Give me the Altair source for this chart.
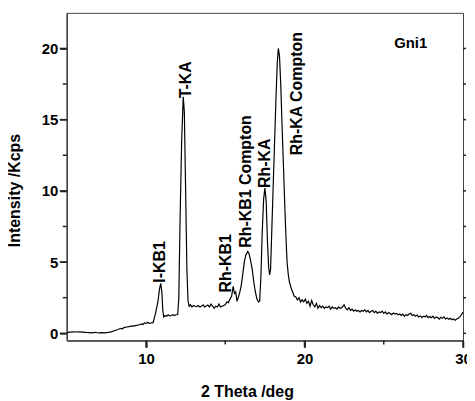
import altair as alt
import pandas as pd

# spectrum (2 theta in deg, intensity in Kcps)
theta = [5.0, 5.2, 5.4, 5.6, 5.8, 6.0, 6.2, 6.4, 6.6, 6.8, 7.0, 7.2, 7.4, 7.6, 7.8, 8.0,
         8.2, 8.4, 8.5, 8.6, 8.8, 9.0, 9.1, 9.2, 9.4, 9.6, 9.7, 9.8, 9.9, 10.0, 10.1, 10.2, 10.3, 10.45,
         10.6, 10.75, 10.85, 10.93, 11.0, 11.06, 11.12, 11.2, 11.3, 11.4, 11.5, 11.6, 11.7, 11.8, 11.9, 12.0,
         12.07, 12.15, 12.25, 12.35, 12.42, 12.5, 12.58, 12.65, 12.72, 12.8, 12.9, 13.0, 13.1, 13.2, 13.3,
         13.4, 13.5, 13.6, 13.7, 13.8, 13.9, 14.0, 14.1, 14.2, 14.3, 14.4, 14.5, 14.6, 14.7, 14.8, 14.9,
         15.0, 15.1, 15.2, 15.3,
         15.4, 15.5, 15.58, 15.66, 15.74, 15.82, 15.9, 16.0, 16.1, 16.2, 16.3, 16.42, 16.5, 16.6, 16.7,
         16.8, 16.9, 17.0, 17.1, 17.17, 17.25, 17.33, 17.42, 17.5, 17.58, 17.66, 17.74, 17.8, 17.86, 17.93,
         18.0, 18.1, 18.2, 18.28, 18.35, 18.42, 18.5, 18.6, 18.68, 18.76, 18.84, 18.9, 18.98, 19.05, 19.15,
         19.25, 19.35, 19.45, 19.55, 19.65, 19.75, 19.85, 19.95, 20.05, 20.15, 20.25, 20.35, 20.45, 20.55,
         20.65, 20.75, 20.85, 20.95, 21.05, 21.15, 21.25, 21.35, 21.45, 21.55, 21.65, 21.75, 21.85, 21.95,
         22.05, 22.15, 22.25, 22.35, 22.5, 22.6, 22.7, 22.8, 22.9, 23.0, 23.1, 23.2, 23.3, 23.4, 23.5,
         23.6, 23.7, 23.8, 23.9, 24.0, 24.1, 24.2, 24.3, 24.4, 24.5, 24.6, 24.7, 24.8, 24.9, 25.0, 25.1,
         25.2, 25.3, 25.4, 25.5, 25.6, 25.7, 25.8, 25.9, 26.0, 26.1, 26.2, 26.3, 26.4, 26.5, 26.6, 26.7,
         26.8, 26.9, 27.0, 27.1, 27.2, 27.3, 27.4, 27.5, 27.6, 27.7, 27.8, 27.9, 28.0, 28.1, 28.2, 28.3,
         28.4, 28.5, 28.6, 28.7, 28.8, 28.9, 29.0, 29.1, 29.2, 29.3, 29.4, 29.5, 29.6, 29.7, 29.8, 29.9, 30.0]
intensity = [0.05, 0.08, 0.10, 0.09, 0.10, 0.08, 0.06, 0.05, 0.03, 0.07, 0.02, 0.04, 0.03, 0.06, 0.10, 0.18,
             0.25, 0.35, 0.30, 0.40, 0.44, 0.48, 0.52, 0.50, 0.56, 0.60, 0.66, 0.62, 0.72, 0.68, 0.78, 0.70, 0.72, 0.75,
             1.4, 2.2, 3.1, 3.5, 2.9, 1.6, 1.15, 1.25, 1.2, 1.3, 1.22, 1.25, 1.3, 1.25, 1.3, 1.32,
             2.5, 8.0, 13.5, 16.6, 15.5, 10.0, 4.5, 2.3, 1.9, 2.0, 1.85, 1.95, 1.9, 1.88, 1.95,
             1.85, 1.9, 2.0, 1.85, 1.92, 1.98, 1.85, 2.05, 1.9, 1.75, 1.9, 1.85, 2.05, 1.85, 1.9, 1.95,
             2.0, 2.2, 2.15, 2.4,
             2.6, 3.3, 2.8, 2.9, 2.25, 2.5, 2.8, 3.3, 4.1, 5.0, 5.5, 5.75, 5.6, 5.1, 4.5,
             3.6, 2.9, 2.4, 2.2, 2.25, 4.0, 7.0, 9.4, 10.2, 9.3, 6.5, 4.6, 4.1, 4.5, 7.0,
             9.5, 13.0, 16.5, 19.0, 20.0, 19.5, 17.5, 14.0, 11.5, 8.8, 6.5, 5.0, 4.1, 3.6, 3.2,
             2.9, 2.6, 2.55, 2.35, 2.5, 2.2, 2.35, 2.2, 2.4, 2.1, 2.25, 1.9, 2.3, 2.0,
             1.85, 2.1, 1.75, 1.95, 1.8, 1.9, 1.75, 1.85, 1.8, 1.9, 1.7, 1.85, 1.75, 1.8,
             1.7, 1.85, 1.75, 1.8, 2.0, 1.75, 1.65, 1.8, 1.6, 1.7, 1.55, 1.65, 1.55, 1.6, 1.5,
             1.6, 1.55, 1.65, 1.5, 1.6, 1.45, 1.55, 1.6, 1.45, 1.55, 1.4, 1.5, 1.45, 1.55, 1.4, 1.5,
             1.35, 1.45, 1.4, 1.3, 1.42, 1.35, 1.4, 1.3, 1.35, 1.25, 1.35, 1.2, 1.3, 1.25, 1.35, 1.4,
             1.25, 1.3, 1.2, 1.28, 1.15, 1.22, 1.1, 1.2, 1.15, 1.25, 1.1, 1.18, 1.1, 1.2, 1.05, 1.15,
             1.1, 1.0, 1.12, 1.05, 1.15, 1.0, 1.08, 0.98, 1.05, 0.95, 1.0, 0.92, 1.0, 1.05, 1.15, 1.3, 1.5]

# peak annotations
peak_labels = ["I-KB1", "T-KA", "Rh-KB1", "Rh-KB1 Compton", "Rh-KA", "Rh-KA Compton"]
peak_x = [10.86, 12.5, 15.03, 16.29, 17.48, 19.55]
peak_y = [3.55, 16.5, 2.87, 6.0, 10.2, 12.5]

sample_label = ["Gni1"]
sample_x = [26.7]
sample_y = [20.35]

x_major = [10, 20, 30]
x_minor = [15, 25]
y_major = [0, 5, 10, 15, 20]
y_minor = [2.5, 7.5, 12.5, 17.5]
y_all = [0, 2.5, 5, 7.5, 10, 12.5, 15, 17.5, 20]

W, H = 398, 329

spec = pd.DataFrame({"theta": theta, "intensity": intensity})
peaks = pd.DataFrame({"label": peak_labels, "x": peak_x, "y": peak_y})
sample = pd.DataFrame({"label": sample_label, "x": sample_x, "y": sample_y})

FONT = "Liberation Sans"
AX = "#222222"

xscale = alt.Scale(domain=[5, 30], nice=False, zero=False)
yscale = alt.Scale(domain=[-0.5, 22.5], nice=False, zero=False)

x_axis = alt.Axis(
    title="2 Theta /deg", values=x_major, grid=False, ticks=True, tickSize=7,
    labelFont=FONT, labelFontSize=15, labelFontWeight="bold", labelColor="black",
    labelPadding=4, labelFlush=False,
    titleFont=FONT, titleFontSize=16, titleFontWeight="bold", titleColor="black",
    titleX=181, titleY=56, titleBaseline="alphabetic", titleAnchor="start", titleAlign="center",
    domainColor="#444444", domainWidth=1.5, tickColor=AX, tickWidth=1.5,
)
y_axis = alt.Axis(
    title="Intensity /Kcps", values=y_major, grid=False, ticks=True, tickSize=7,
    labelFont=FONT, labelFontSize=15, labelFontWeight="bold", labelColor="black",
    labelPadding=2, labelFlush=False,
    titleFont=FONT, titleFontSize=16, titleFontWeight="bold", titleColor="black",
    titleX=-47, titleY=178, titleAngle=270, titleBaseline="alphabetic", titleAlign="center",
    titleAnchor="start",
    domainColor="#444444", domainWidth=1.5, tickColor=AX, tickWidth=1.5,
)

line = alt.Chart(spec).mark_line(color="black", strokeWidth=1.2, clip=True).encode(
    x=alt.X("theta:Q", scale=xscale, axis=x_axis),
    y=alt.Y("intensity:Q", scale=yscale, axis=y_axis),
)


def xticks(vals, length, center):
    df = pd.DataFrame({"v": vals})
    return alt.Chart(df).mark_tick(color=AX, orient="vertical", size=length,
                                   thickness=1.5, opacity=1).encode(
        x=alt.X("v:Q", scale=xscale, axis=None), y=alt.value(center))


def yticks(vals, length, center):
    df = pd.DataFrame({"v": vals})
    return alt.Chart(df).mark_tick(color=AX, orient="horizontal", size=length,
                                   thickness=1.5, opacity=1).encode(
        y=alt.Y("v:Q", scale=yscale, axis=None), x=alt.value(center))


tick_layers = [
    xticks(x_major, 7, H + 3.5),
    xticks(x_minor, 4, H + 2),
    yticks(y_major, 7, -3.5),
    yticks(y_minor, 4, -2),
    yticks(y_all, 3, W + 1.5),
]

labels = alt.Chart(peaks).mark_text(
    angle=270, align="left", baseline="middle", font=FONT, fontSize=16,
    fontWeight="bold", color="black",
).encode(x=alt.X("x:Q", scale=xscale, axis=None),
         y=alt.Y("y:Q", scale=yscale, axis=None), text="label:N")

sample_text = alt.Chart(sample).mark_text(
    align="center", baseline="middle", font=FONT, fontSize=15,
    fontWeight="bold", color="black",
).encode(x=alt.X("x:Q", scale=xscale, axis=None),
         y=alt.Y("y:Q", scale=yscale, axis=None), text="label:N")

chart = alt.layer(line, *tick_layers, labels, sample_text).resolve_axis(
    x="independent", y="independent"
).properties(
    width=W, height=H,
    autosize=alt.AutoSizeParams(type="none"),
    padding={"left": 59, "top": 4, "right": 4, "bottom": 60},
).configure_view(stroke="#444444", strokeWidth=1)

chart.save("out.html", embed_options={"renderer": "svg", "actions": False})
